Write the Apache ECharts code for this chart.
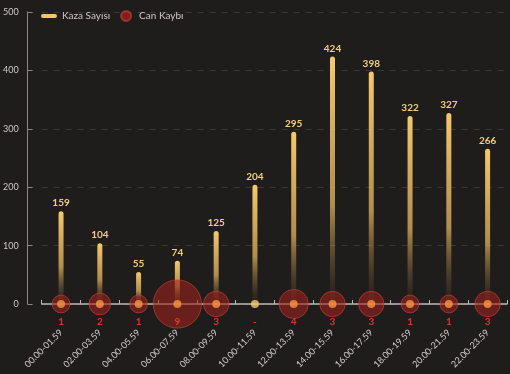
<!DOCTYPE html>
<html><head><meta charset="utf-8">
<script src="https://cdn.jsdelivr.net/npm/echarts@6/dist/echarts.min.js"></script>
<style>html,body{margin:0;padding:0;background:#1f1c1c;}#c{width:510px;height:374px;}</style>
</head><body><div id="c"></div>
<script>
var categories = ["00.00-01.59","02.00-03.59","04.00-05.59","06.00-07.59","08.00-09.59","10.00-11.59","12.00-13.59","14.00-15.59","16.00-17.59","18.00-19.59","20.00-21.59","22.00-23.59"];
var kazaSayisi = [159,104,55,74,125,204,295,424,398,322,327,266];
var canKaybi = [1,2,1,9,3,0,4,3,3,1,1,3];
var yTicks = [0,100,200,300,400,500];

var FONT = 'Lato';
var chart = echarts.init(document.getElementById('c'), null, {renderer:'canvas'});
chart.setOption({
  backgroundColor:'#1f1c1c',
  animation:false,
  grid:{left:40,right:3,top:12,bottom:70},
  legend:{
    left:36, top:5, itemGap:10, itemWidth:16, itemHeight:10,
    textStyle:{color:'#cfc9c4', fontFamily:FONT, fontSize:10},
    data:[
      {name:'Kaza Sayısı', icon:'path://M2,3 L14,3 A2,2 0 0 1 14,7 L2,7 A2,2 0 0 1 2,3 Z', itemStyle:{color:'#f4c76a'}},
      {name:'Can Kaybı', icon:'circle', itemStyle:{color:'#a31d1d'}}
    ]
  },
  xAxis:{
    type:'category', data:categories, boundaryGap:true,
    axisLine:{lineStyle:{color:'#bdb8b4', width:1.5}},
    axisTick:{show:true, inside:true, length:4, lineStyle:{color:'#bdb8b4'}},
    axisLabel:{rotate:45, color:'#d6d0cc', fontFamily:FONT, fontSize:9, margin:27, interval:0}
  },
  yAxis:{
    type:'value', min:0, max:500, interval:100, offset:14,
    axisLine:{show:true, lineStyle:{color:'#8a8583'}},
    axisTick:{show:true, length:5, inside:true, lineStyle:{color:'#8a8583'}},
    splitLine:{show:true, lineStyle:{color:'#3b3737', type:[6,6], width:1}},
    axisLabel:{color:'#cfc9c4', fontFamily:FONT, fontSize:9, margin:9,
      formatter:function(v){return yTicks.indexOf(v)>=0?String(v):'';}}
  },
  series:[
    {
      name:'Kaza Sayısı', type:'bar', data:kazaSayisi, barWidth:5, z:2,
      itemStyle:{
        borderRadius:[3,3,0,0],
        color:new echarts.graphic.LinearGradient(0,0,0,1,[
          {offset:0,color:'#f6c96c'},
          {offset:0.6,color:'rgba(214,170,90,0.8)'},
          {offset:1,color:'rgba(120,90,50,0.05)'}
        ])
      },
      label:{show:true, position:'top', distance:3, color:'#f2cf7d', fontFamily:FONT, fontWeight:'bold', fontSize:10}
    },
    {
      name:'Can Kaybı', type:'scatter', z:3,
      data:canKaybi.map(function(v,i){return [i,0,v];}),
      symbolSize:function(d){return d[2]>0 ? 14+3.8*d[2] : 0;},
      itemStyle:{color:'rgba(160,34,27,0.72)', borderColor:'rgba(200,68,54,0.8)', borderWidth:1}
    },
    {
      name:'Kaza Sayısı', type:'scatter', z:4, silent:true,
      data:kazaSayisi.map(function(v,i){return {value:[i,0], itemStyle:{color: canKaybi[i]>0 ? '#f7963f' : '#f9cb6c'}};}),
      symbolSize:8
    },
    {
      name:'Can Kaybı', type:'scatter', z:5, silent:true,
      data:canKaybi.map(function(v,i){return [i,0,v];}),
      symbolSize:1, itemStyle:{color:'rgba(0,0,0,0)'},
      label:{show:true, position:'bottom', distance:12, color:'#ff4130', fontFamily:FONT, fontWeight:'bold', fontSize:10,
        formatter:function(p){return p.value[2]>0?String(p.value[2]):'-';}},
      labelLayout:{hideOverlap:false}
    }
  ]
});
</script></body></html>
